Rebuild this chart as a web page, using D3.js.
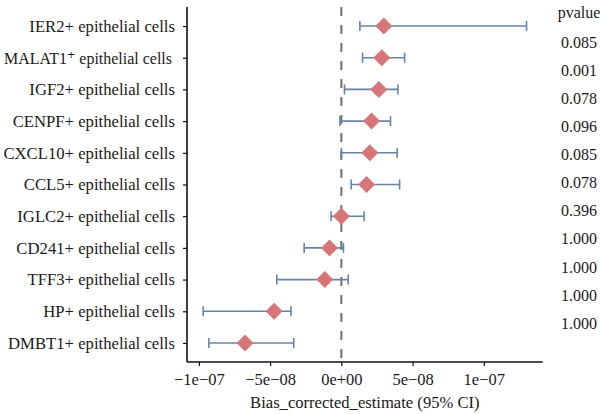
<!DOCTYPE html>
<html><head><meta charset="utf-8">
<script src="https://cdn.jsdelivr.net/npm/d3@7"></script>
<style>body{margin:0;background:#fff}svg{display:block}</style>
</head><body>
<script>
const categories = ["IER2+ epithelial cells","MALAT1⁺ epithelial cells","IGF2+ epithelial cells","CENPF+ epithelial cells","CXCL10+ epithelial cells","CCL5+ epithelial cells","IGLC2+ epithelial cells","CD241+ epithelial cells","TFF3+ epithelial cells","HP+ epithelial cells","DMBT1+ epithelial cells"];
const estimate = [2.98e-8, 2.84e-8, 2.63e-8, 2.12e-8, 2.0e-8, 1.77e-8, 0.0e-8, -0.83e-8, -1.16e-8, -4.72e-8, -6.76e-8];
const ciLow = [1.3e-8, 1.49e-8, 0.22e-8, -0.1e-8, 0.0e-8, 0.69e-8, -0.72e-8, -2.61e-8, -4.53e-8, -9.7e-8, -9.3e-8];
const ciHigh = [13.0e-8, 4.44e-8, 3.97e-8, 3.45e-8, 3.92e-8, 4.09e-8, 1.6e-8, 0.15e-8, 0.48e-8, -3.53e-8, -3.34e-8];
const pvalues = ["0.085","0.001","0.078","0.096","0.085","0.078","0.396","1.000","1.000","1.000","1.000"];
const xTicks = [-1e-7, -5e-8, 0, 5e-8, 1e-7];
const xTickLabels = ["−1e−07","−5e−08","0e+00","5e−08","1e−07"];

(function () {
const W = 600, H = 414;
const svg = d3.select("body").append("svg").attr("width", W).attr("height", H);
const serif = "'Liberation Serif','DejaVu Serif',serif";
const pLeft = 187, pRight = 542.7, pTop = 7, pBottom = 362;

const allVals = ciLow.concat(ciHigh);
const lo = d3.min(allVals), hi = d3.max(allVals), pad = (hi - lo) * 0.05;
const x = d3.scaleLinear().domain([lo - pad, hi + pad]).range([pLeft, pRight]);
const y = d3.scalePoint().domain(categories).range([pTop, pBottom]).padding(0.6);

// axes
const xAxis = svg.append("g").attr("transform", `translate(0,${pBottom})`)
  .call(d3.axisBottom(x).tickValues(xTicks).tickFormat((d, i) => xTickLabels[i]).tickSizeOuter(0).tickSize(4).tickPadding(4));
const yAxis = svg.append("g").attr("transform", `translate(${pLeft},0)`)
  .call(d3.axisLeft(y).tickSizeOuter(0).tickSize(4).tickPadding(8));
[xAxis, yAxis].forEach(a => {
  a.select(".domain").attr("stroke", "#111").attr("stroke-width", 1.6);
  a.selectAll(".tick line").attr("stroke", "#111").attr("stroke-width", 1.2);
  a.selectAll("text").attr("font-family", serif).attr("fill", "#1a1a1a");
});
yAxis.select(".domain").attr("d", `M0,${pTop}V${pBottom}`);
xAxis.select(".domain").attr("d", `M${pLeft},0H${pRight}`);
yAxis.selectAll("text").attr("font-size", 16.7);
yAxis.selectAll("text").filter(d => d.startsWith("MALAT1"))
  .attr("dx", -3).attr("textLength", 168).attr("lengthAdjust", "spacingAndGlyphs");
xAxis.selectAll("text").attr("font-size", 16.5).attr("dy", "0.9em");

// zero reference line
svg.append("line").attr("x1", x(0)).attr("x2", x(0)).attr("y1", pTop).attr("y2", pBottom)
  .attr("stroke", "#707070").attr("stroke-width", 2).attr("stroke-dasharray", "9,9");

// error bars
const rows = categories.map((c, i) => ({c, est: estimate[i], lo: ciLow[i], hi: ciHigh[i]}));
const eb = svg.append("g").attr("stroke", "#6783a6").attr("stroke-width", 1.6);
eb.selectAll("line.h").data(rows).join("line").attr("class", "h")
  .attr("x1", d => x(d.lo)).attr("x2", d => x(d.hi)).attr("y1", d => y(d.c)).attr("y2", d => y(d.c));
eb.selectAll("line.l").data(rows).join("line").attr("class", "l")
  .attr("x1", d => x(d.lo)).attr("x2", d => x(d.lo)).attr("y1", d => y(d.c) - 5).attr("y2", d => y(d.c) + 5);
eb.selectAll("line.r").data(rows).join("line").attr("class", "r")
  .attr("x1", d => x(d.hi)).attr("x2", d => x(d.hi)).attr("y1", d => y(d.c) - 5).attr("y2", d => y(d.c) + 5);

// diamonds
svg.append("g").selectAll("path").data(rows).join("path")
  .attr("d", d3.symbol(d3.symbolSquare, 145)())
  .attr("transform", d => `translate(${x(d.est)},${y(d.c)}) rotate(45)`)
  .attr("fill", "#d67678");

// p-value column
svg.append("text").attr("x", 579).attr("y", 12).attr("dy", "0.35em").attr("text-anchor", "middle")
  .attr("font-family", serif).attr("font-size", 16).attr("fill", "#1a1a1a").text("pvalue");
const py = d3.scalePoint().domain(d3.range(pvalues.length)).range([42.6, 323]);
svg.append("g").selectAll("text").data(pvalues).join("text")
  .attr("x", 579).attr("y", (d, i) => py(i)).attr("dy", "0.35em").attr("text-anchor", "middle")
  .attr("font-family", serif).attr("font-size", 16).attr("fill", "#1a1a1a").text(d => d);

// axis title
svg.append("text").attr("x", (pLeft + pRight) / 2).attr("y", 402).attr("dy", "0.35em").attr("text-anchor", "middle")
  .attr("font-family", serif).attr("font-size", 16.6).attr("fill", "#1a1a1a").text("Bias_corrected_estimate (95% CI)");
})();
</script>
</body></html>
